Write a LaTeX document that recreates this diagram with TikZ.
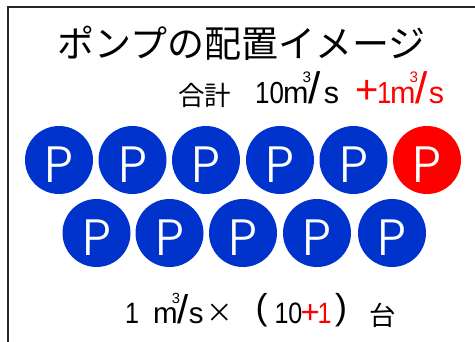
\documentclass[tikz,border=0pt]{standalone}
\usepackage{fontspec}
\setmainfont{Noto Sans CJK JP}
\newfontfamily\pfont{Poppins}[UprightFont={* Light}]
\newfontfamily\lat{Liberation Sans}
\newfontfamily\latn{Liberation Sans}[FakeStretch=0.85]
\definecolor{pblue}{RGB}{0,51,204}
\definecolor{pred}{RGB}{255,0,0}
\newcommand\cubm{m\rlap{\kern-0.2em\raisebox{0.66em}{\scalebox{0.5}{3}}}}
\newcommand\slsh[1]{{\fontsize{#1}{#1}\selectfont /}}
\newcommand\plab{\raisebox{-5pt}[\height][0pt]{P}}
\tikzset{
  pump/.style={circle, fill=pblue, minimum size=68pt, inner sep=0pt, text=white,
    font=\pfont\fontsize{51}{51}\selectfont},
  redpump/.style={pump, fill=pred},
  txt/.style={inner sep=0pt, text=black},
  jp/.style={txt, font=\fontsize{26.5}{26.5}\selectfont},
  la/.style={txt, anchor=base west, font=\lat\fontsize{30.5}{30.5}\selectfont},
  dg/.style={txt, anchor=base west, font=\latn\fontsize{30.5}{30.5}\selectfont},
  big/.style={txt, anchor=base west, font=\lat\fontsize{#1}{#1}\selectfont}
}
\begin{document}
\begin{tikzpicture}[x=1pt,y=-1pt]
\useasboundingbox (0,0) rectangle (475,341);
\fill[white] (0,0) rectangle (475,341);
\draw[line width=1.3pt, black!85] (8,345) -- (8,7) -- (480,7);
% title
\node[txt, font=\fontsize{37}{37}\selectfont] (title) at (241.5,43) {ポンプの配置イメージ};
% total line
\node[jp] (goukei) at (204.5,95) {合計};
\node[dg] (ten) at (255,103) {10};
\node[la] (unit1) at (283,103) {\cubm\slsh{44}\kern3pt s};
\node[big=40, text=pred] (plus) at (355,103) {+};
\node[dg, text=pred] (one1) at (377,103) {1};
\node[la, text=pred] (unit2) at (390,103) {\cubm\slsh{44}\kern1pt s};
% pumps row 1
\node[pump] (p1) at (59,160) {\plab};
\node[pump] (p2) at (132.5,160) {\plab};
\node[pump] (p3) at (206,160) {\plab};
\node[pump] (p4) at (280,160) {\plab};
\node[pump] (p5) at (353.5,160) {\plab};
\node[redpump] (p6) at (427,160) {\plab};
% row 2
\node[pump] (q1) at (96.5,233) {\plab};
\node[pump] (q2) at (169.5,233) {\plab};
\node[pump] (q3) at (243,233) {\plab};
\node[pump] (q4) at (317,233) {\plab};
\node[pump] (q5) at (392,233) {\plab};
% bottom formula
\node[dg, font=\latn\fontsize{29.5}{29.5}\selectfont] (one) at (125,323) {1};
\node[la, font=\lat\fontsize{29.5}{29.5}\selectfont] (unit) at (153,323) {\cubm\slsh{40}s};
\node[jp] (times) at (220,313.5) {×};
\node[big=36] (lp) at (255.5,319.5) {(};
\node[dg, font=\latn\fontsize{29.5}{29.5}\selectfont] (ten2) at (274.3,323) {10};
\node[big=33, text=pred] (plus2) at (300.3,323) {+};
\node[dg, text=pred, font=\latn\fontsize{29.5}{29.5}\selectfont] (one2) at (317.5,323) {1};
\node[big=36] (rp) at (335,319.5) {)};
\node[jp] (dai) at (382.5,315.5) {台};
\end{tikzpicture}
\end{document}
